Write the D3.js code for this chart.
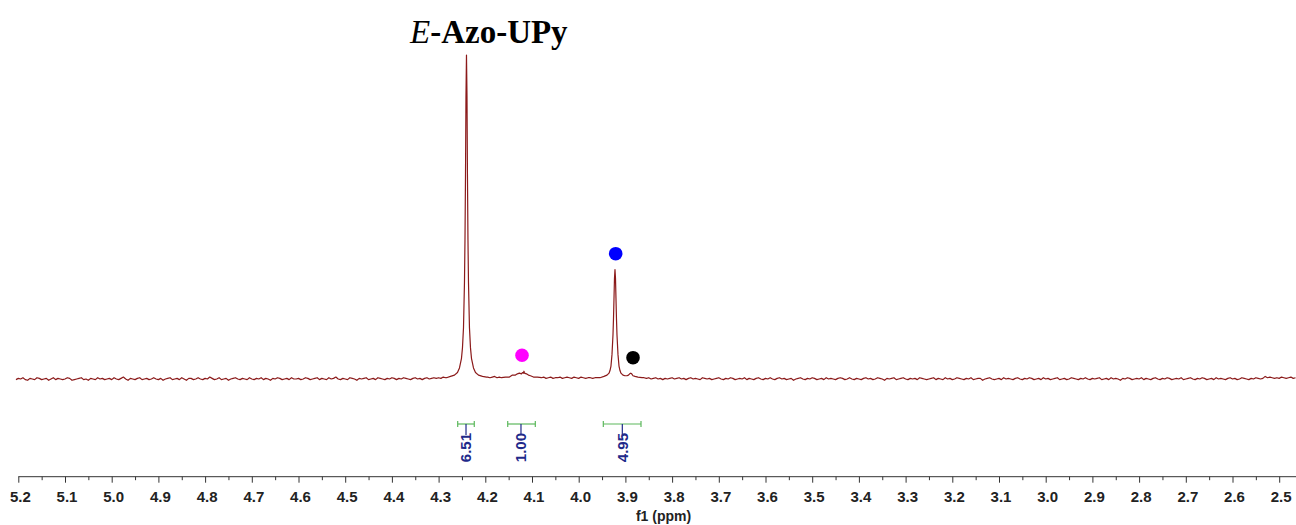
<!DOCTYPE html>
<html><head><meta charset="utf-8">
<script src="https://cdn.jsdelivr.net/npm/d3@7"></script>
<style>html,body{margin:0;padding:0;background:#fff;overflow:hidden}</style>
</head><body>
<svg id="chart" width="1296" height="525"></svg>
<script>
// ---------- data ----------
// baseline samples (intensity units, main peak = 500), on a ppm grid
const baselineStart = 5.205;
const baselineStep = 0.005;
const baseline = [
-1,1,0,2,-1,-2,1,0,-1,2,1,-1,0,1,-2,0,2,-1,1,0,
-1,0,2,1,-2,-1,0,1,2,-1,0,-2,1,0,-1,2,0,1,-1,0,
1,-1,2,0,-1,1,3,0,-2,1,0,-1,1,2,-1,0,1,-1,0,2,
0,-1,1,-2,0,1,2,-1,0,1,-1,2,0,-2,1,1,-1,0,2,0,
-1,1,0,3,1,-1,0,2,-1,0,1,-2,0,1,2,0,-1,1,0,-1,
2,0,-1,1,0,2,-1,1,0,-2,1,0,2,1,-1,0,1,-1,2,0,
0,1,-1,0,2,1,-1,0,1,2,-1,1,0,-1,2,0,1,3,0,-1,
1,0,-1,2,1,0,-2,1,0,1,2,-1,0,1,-1,2,1,0,-1,1,
0,2,1,-1,1,0,2,1,0,-1,1,2,0,1,-1,1,2,0,1,2,
1,2,1,3,2,2,2,2,2,2,2,2,2,2,2,2,2,2,2,2,
2,2,3,2,3,4,2,3,2,2,2,2,2,2,2,2,2,2,2,2,
2,2,2,2,2,2,3,1,2,3,1,2,2,3,1,2,3,2,1,3,
2,1,3,2,1,2,2,1,2,2,2,2,2,2,2,2,2,2,2,2,
2,2,2,2,2,2,2,2,2,2,1,2,0,1,2,0,1,-1,1,0,
1,2,0,1,2,0,1,-1,1,2,0,1,0,-1,2,1,0,1,-1,0,
1,2,0,-1,1,0,2,1,-1,0,1,0,2,-1,1,0,-1,1,2,0,
-1,1,0,2,0,-1,1,2,0,1,-1,0,1,-2,0,1,2,0,-1,1,
0,2,1,-1,0,1,-1,2,0,1,0,-1,1,2,1,-1,0,2,0,-1,
1,0,-1,1,2,0,1,-1,0,2,1,0,-2,1,0,1,2,-1,0,1,
2,0,-1,1,0,1,-1,2,1,0,-1,0,1,2,-1,1,0,-1,2,0,
1,-1,0,2,1,0,-1,1,0,2,-1,0,1,1,-2,0,1,2,0,-1,
0,1,-1,2,0,1,0,-1,1,2,0,-1,1,0,2,1,-1,0,1,-1,
2,0,1,-1,0,1,2,-1,0,1,-1,0,2,1,0,-1,1,0,2,0,
-1,1,0,1,2,-1,0,1,-1,2,0,1,0,-2,1,0,2,1,-1,0,
1,0,2,-1,1,0,-1,1,2,0,-1,1,0,2,1,-1,0,1,0,2,
-1,0,1,2,0,-1,1,0,2,1,-1,0,1,-1,2,0,1,0,-1,1,
2,0,1,-1,0,2,1,0,-1,1,0,2,1,0,1,4,2,3,2,1,
2,1,3,2,1,2,3,1,2
];
// peak regions: [ppm, intensity]
const mainPeak = [
[4.2831,2],[4.2746,4],[4.2660,6],[4.2596,10],[4.2553,17],[4.2510,32],[4.2489,48],[4.2467,79],
[4.2446,149],[4.2435,215],[4.2424,314],[4.2414,436],[4.2403,500],[4.2392,436],[4.2382,314],
[4.2371,215],[4.2360,149],[4.2339,79],[4.2317,48],[4.2296,32],[4.2253,17],[4.2210,10],
[4.2146,6],[4.2060,4],[4.1975,3]
];
const broadPeak = [
[4.1654,2],[4.1569,3],[4.1483,3],[4.1419,6],[4.1354,6],[4.1312,8],[4.1269,9],[4.1226,8],
[4.1205,10],[4.1183,9],[4.1172,12],[4.1162,9],[4.1119,8],[4.1076,6],[4.1033,5],[4.0969,3],
[4.0883,3],[4.0798,2]
];
const sharpPeaks = [
[3.9651,2],[3.9544,2],[3.9459,4],[3.9394,6],[3.9351,9],[3.9330,13],[3.9309,20],[3.9287,38],
[3.9266,68],[3.9255,93],[3.9244,125],[3.9234,155],[3.9223,169],[3.9212,155],[3.9202,125],
[3.9191,93],[3.9180,68],[3.9159,38],[3.9137,20],[3.9116,13],[3.9095,9],[3.9052,6],[3.9009,5],
[3.8966,5],[3.8934,6],[3.8908,8],[3.8886,9],[3.8865,8],[3.8837,5],[3.8794,4],[3.8731,3],[3.8645,2]
];
const tickLabels = ["5.2","5.1","5.0","4.9","4.8","4.7","4.6","4.5","4.4","4.3","4.2","4.1","4.0",
  "3.9","3.8","3.7","3.6","3.5","3.4","3.3","3.2","3.1","3.0","2.9","2.8","2.7","2.6","2.5"];
const integralLabels = ["6.51","1.00","4.95"];
const integralFrom = [4.2591, 4.1520, 3.9473];
const integralTo = [4.2236, 4.0929, 3.8666];
const integralCenter = [4.2413, 4.1236, 3.9066];
const markerPpm = [4.1214, 3.9208, 3.8837];
const markerValue = [36.6, 193.4, 32.9];
const titleItalic = "E";
const titleBold = "-Azo-UPy";
const axisTitle = "f1 (ppm)";

// ---------- styles ----------
const markerColors = ["#ff00ff", "#0000ff", "#000000"];
const specColor = "#8b1a1a";

// ---------- drawing ----------
const svg = d3.select("#chart");
const x = d3.scaleLinear().domain([5.2, 2.5]).range([18.3, 1279.2]);
const y = d3.scaleLinear().domain([0, 500]).range([379, 55]);

const peaks = [mainPeak, broadPeak, sharpPeaks];
const windows = peaks.map(p => [d3.min(p, d => d[0]), d3.max(p, d => d[0])]);
const basePts = baseline
  .map((v, i) => [+(baselineStart - i * baselineStep).toFixed(4), v])
  .filter(d => !windows.some(w => d[0] >= w[0] && d[0] <= w[1]));
const spectrum = basePts.concat(...peaks).sort((a, b) => b[0] - a[0]);

svg.append("path").datum(spectrum)
  .attr("d", d3.line().x(d => x(d[0])).y(d => y(d[1])))
  .attr("fill", "none").attr("stroke", specColor)
  .attr("stroke-width", 1.2).attr("stroke-linejoin", "round");

// markers
svg.selectAll("circle.mk").data(markerPpm).join("circle")
  .attr("class", "mk")
  .attr("cx", d => x(d)).attr("cy", (d, i) => y(markerValue[i]))
  .attr("r", 6.8).attr("fill", (d, i) => markerColors[i]);

// integrals
const gi = svg.append("g");
integralLabels.forEach((lab, i) => {
  const yb = 424;
  gi.append("line").attr("x1", x(integralFrom[i])).attr("x2", x(integralTo[i]))
    .attr("y1", yb).attr("y2", yb).attr("stroke", "#5cb85c").attr("stroke-width", 1.2);
  [integralFrom[i], integralTo[i]].forEach(p => {
    gi.append("line").attr("x1", x(p)).attr("x2", x(p)).attr("y1", yb - 3).attr("y2", yb + 3)
      .attr("stroke", "#5cb85c").attr("stroke-width", 1.2);
  });
  const xc = x(integralCenter[i]);
  gi.append("line").attr("x1", xc).attr("x2", xc).attr("y1", yb).attr("y2", yb + 11)
    .attr("stroke", "#1f2a8a").attr("stroke-width", 1.2);
  gi.append("text").attr("transform", `translate(${xc},${yb + 9}) rotate(-90)`)
    .attr("text-anchor", "end").attr("dy", "0.36em")
    .attr("font-family", "Liberation Sans, Arial, sans-serif").attr("font-weight", "bold")
    .attr("font-size", 15).attr("fill", "#1f2a8a").text(lab);
});

// axis
const axisY = 476.7;
const ga = svg.append("g").attr("transform", `translate(0,${axisY})`);
ga.append("line").attr("x1", x(5.2)).attr("x2", x(spectrum[spectrum.length - 1][0]) + 1)
  .attr("y1", 0).attr("y2", 0).attr("stroke", "#333").attr("stroke-width", 1);
const majorVals = tickLabels.map(Number);
const minorVals = majorVals.slice(0, -1).map(v => +(v - 0.05).toFixed(2));
const gMaj = ga.append("g").call(d3.axisBottom(x).tickValues(majorVals).tickSize(6)
  .tickFormat((d, i) => tickLabels[i]));
const gMin = ga.append("g").call(d3.axisBottom(x).tickValues(minorVals).tickSize(3.5).tickFormat(""));
[gMaj, gMin].forEach(g => {
  g.select(".domain").remove();
  g.selectAll(".tick line").attr("stroke", "#333");
});
gMaj.selectAll(".tick text").attr("y", 25.5).attr("dy", 0).attr("dx", 1.5)
  .attr("font-family", "Liberation Sans, Arial, sans-serif").attr("font-weight", "bold")
  .attr("font-size", 15).attr("fill", "#222");
svg.append("text").attr("x", 663.5).attr("y", 520.5).attr("text-anchor", "middle")
  .attr("font-family", "Liberation Sans, Arial, sans-serif").attr("font-weight", "bold")
  .attr("font-size", 14).attr("fill", "#222").text(axisTitle);

// title
const t = svg.append("text").attr("x", 410).attr("y", 43)
  .attr("font-family", "Liberation Serif, Times New Roman, serif").attr("font-size", 33).attr("fill", "#000");
t.append("tspan").attr("font-style", "italic").text(titleItalic);
t.append("tspan").attr("font-weight", "bold").text(titleBold);
</script>
</body></html>
